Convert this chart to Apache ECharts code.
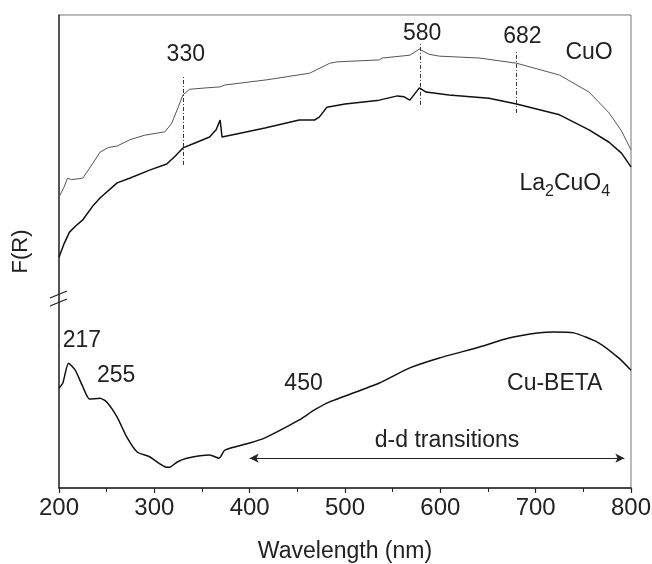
<!DOCTYPE html>
<html>
<head>
<meta charset="utf-8">
<script src="https://cdn.jsdelivr.net/npm/echarts@6/dist/echarts.min.js"></script>
<style>
html,body{margin:0;padding:0;background:#fff;}
#chart{width:652px;height:564px;}
</style>
</head>
<body>
<div id="chart"></div>
<script>
// Wavelength (nm) / F(R) (arbitrary offset units)
const cuoX = [200,205,209,213,225,235,243,252,261,274,290,311,318,325,330,337,355,369,371,374,418,463,470,484,492,536,539,568,578,588,599,641,680,725,756,777,790,800];
const cuoY = [61.5,63.5,65.5,65.2,65.5,68.5,71.0,72.0,72.3,73.6,74.6,75.3,77.0,80.5,83.1,84.3,84.6,84.8,84.4,85.2,86.3,87.7,88.4,89.8,90.1,90.5,90.9,91.5,92.8,91.7,91.3,90.9,89.8,87.3,83.7,79.3,75.5,71.5];

const laX = [200,205,211,218,225,235,243,261,274,295,313,322,330,342,358,365,369,371,390,416,452,468,473,481,500,536,555,562,568,578,585,609,651,680,725,756,777,790,800];
const laY = [48.8,51.5,54.1,55.5,56.7,59.5,61.3,64.5,65.5,67.2,68.5,70.2,71.9,72.9,74.2,75.8,77.8,74.2,75.0,76.1,77.8,77.8,78.4,80.5,81.2,82.0,82.9,82.7,82.0,84.6,83.7,83.1,82.4,81.2,78.9,75.7,73.1,70.8,67.9];

const betaX = [200,204,210,217,225,232,243,250,261,271,282,295,313,316,324,334,358,368,374,400,416,452,468,484,536,568,599,641,672,704,719,740,766,787,800];
const betaY = [21.1,22.2,26.4,24.9,21.4,18.8,19.0,18.2,15.0,10.8,7.6,6.6,4.4,4.4,5.5,6.3,7.0,6.3,8.0,9.5,10.6,14.4,16.5,18.2,22.2,25.4,27.5,29.8,31.7,32.8,33.0,32.8,30.7,27.5,24.9];

// peak marker lines (wavelength, y from, y to)
const peakLineX = [330, 579, 680];
const peakLineY0 = [68.3, 81.0, 79.3];
const peakLineY1 = [87.3, 94.3, 92.6];

// d-d transitions arrow
const arrowX = [400, 793];
const arrowY = 6.3;

// annotation texts and their data positions (centres)
const annoText = ['330','580','682','CuO','Cu-BETA','d-d transitions','217','255','450'];
const annoX = [333, 581, 686, 756, 720, 607, 224, 260, 456.5];
const annoY = [91.6, 96.0, 95.4, 92.0, 22.0, 10.1, 31.1, 23.7, 22.0];
// La2CuO4 label anchor (left, centre)
const laLabelX = 683;
const laLabelY = 64.3;

const xTicks = {min: 200, max: 800, interval: 100};

const FONT = 'Liberation Sans, Arial, sans-serif';
const TXT = '#222';

function pairs(xs, ys){ return xs.map((x,i)=>[x, ys[i]]); }

const chart = echarts.init(document.getElementById('chart'), null, {renderer:'canvas'});

const option = {
  animation: false,
  backgroundColor: '#fff',
  grid: {left: 59, right: 21, top: 15, bottom: 76, containLabel: false, outerBoundsMode: 'none',
         show: true, borderColor: '#777', borderWidth: 1, backgroundColor: 'transparent'},
  xAxis: {
    type: 'value', min: xTicks.min, max: xTicks.max, interval: xTicks.interval,
    axisLine: {show: true, lineStyle: {color: '#222', width: 1.5}},
    axisTick: {show: true, inside: false, length: 5, lineStyle: {color: '#222', width: 1.2}},
    minorTick: {show: true, splitNumber: 2, length: 4, lineStyle: {color: '#222', width: 1}},
    splitLine: {show: false},
    axisLabel: {fontSize: 24, color: TXT, fontFamily: FONT, margin: 8},
    name: 'Wavelength (nm)', nameLocation: 'middle', nameGap: 52,
    nameTextStyle: {fontSize: 23, color: TXT, fontFamily: FONT}
  },
  yAxis: {
    type: 'value', min: 0, max: 100,
    axisLine: {show: true, lineStyle: {color: '#333', width: 1.5}},
    axisTick: {show: false}, axisLabel: {show: false}, splitLine: {show: false},
    name: 'F(R)', nameLocation: 'middle', nameGap: 27,
    nameTextStyle: {fontSize: 22, color: TXT, fontFamily: FONT}
  },
  series: [
    {
      name: 'CuO', type: 'line', data: pairs(cuoX, cuoY), showSymbol: false, smooth: false,
      lineStyle: {color: '#555', width: 1}, z: 3,
      markLine: {
        silent: true, symbol: ['none','none'], label: {show: false},
        lineStyle: {color: '#333', width: 1, type: [4,2,1,2]},
        data: peakLineX.map((x,i)=>[{coord:[x, peakLineY0[i]]},{coord:[x, peakLineY1[i]]}])
      }
    },
    {
      name: 'La2CuO4', type: 'line', data: pairs(laX, laY), showSymbol: false,
      lineStyle: {color: '#111', width: 1.5}, z: 3
    },
    {
      name: 'Cu-BETA', type: 'line', data: pairs(betaX, betaY), showSymbol: false, smooth: 0.2,
      lineStyle: {color: '#111', width: 1.5}, z: 3,
      markLine: {
        silent: true, symbol: ['arrow','arrow'], symbolSize: [7, 9], label: {show: false},
        lineStyle: {color: '#222', width: 1.2, type: 'solid'},
        data: [[{coord:[arrowX[0], arrowY]},{coord:[arrowX[1], arrowY]}]]
      }
    }
  ]
};
chart.setOption(option);

const g = [];
annoText.forEach((t,i)=>{
  const p = chart.convertToPixel({gridIndex:0}, [annoX[i], annoY[i]]);
  g.push({type:'text', x: p[0], y: p[1], z: 10, silent: true,
    style:{text: t, fontSize: 23, fontFamily: FONT, fill: TXT, align:'center', verticalAlign:'middle'}});
});
// La2CuO4 label with subscripts
const lp = chart.convertToPixel({gridIndex:0}, [laLabelX, laLabelY]);
const parts = [['La',23,0,25.6],['2',16,8,8.9],['CuO',23,0,47.3],['4',16,8,8.9]];
let cx = lp[0];
parts.forEach(pp=>{
  g.push({type:'text', x: cx, y: lp[1] + pp[2], z: 10, silent: true,
    style:{text: pp[0], fontSize: pp[1], fontFamily: FONT, fill: TXT, align:'left', verticalAlign:'middle'}});
  cx += pp[3];
});
// axis break marks
g.push({type:'line', z: 10, silent: true, shape:{x1:50,y1:298,x2:67,y2:291}, style:{stroke:'#222', lineWidth:1.3}});
g.push({type:'line', z: 10, silent: true, shape:{x1:50,y1:306,x2:67,y2:299}, style:{stroke:'#222', lineWidth:1.3}});
chart.setOption({graphic: g});
</script>
</body>
</html>
